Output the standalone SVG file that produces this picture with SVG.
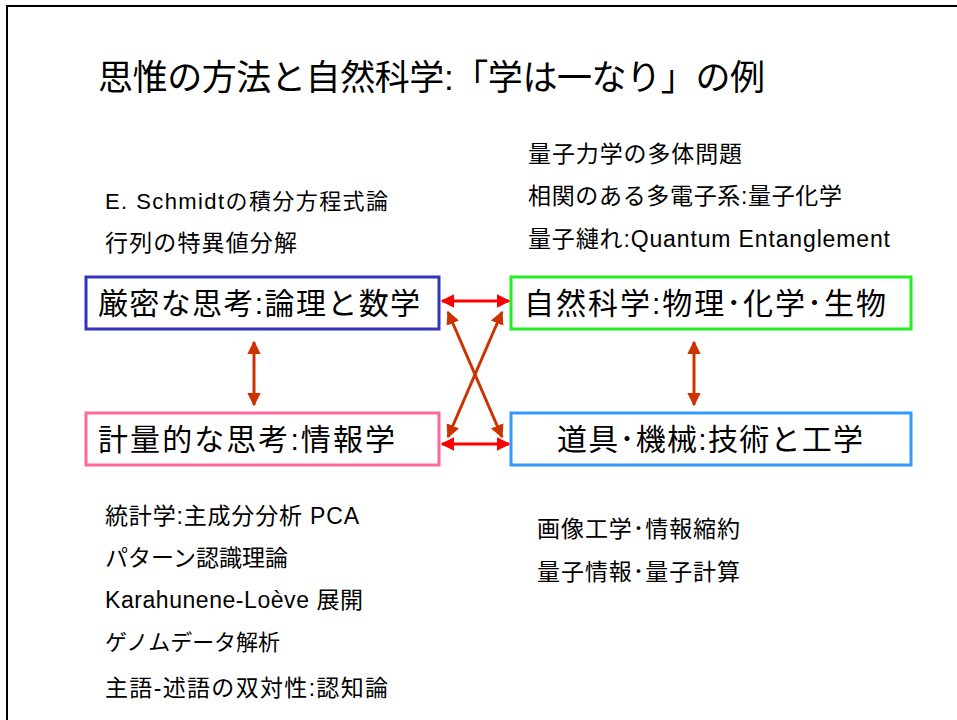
<svg xmlns="http://www.w3.org/2000/svg" width="957" height="720" viewBox="0 0 957 720">
<defs>
<style>
text{font-family:"Liberation Sans","Noto Sans CJK JP",sans-serif;fill:#000}
.t{font-size:35px}
.b{font-size:30px}
.s{font-size:23px}
.box{fill:#fff;stroke-width:3}
.ar{stroke:#FF0000;stroke-width:3;fill:none;marker-start:url(#hr);marker-end:url(#hr)}
.ao{stroke:#CC3300;stroke-width:3;fill:none;marker-start:url(#ho);marker-end:url(#ho)}
</style>
<marker id="hr" viewBox="0 0 10 10" refX="9" refY="5" markerWidth="4.5" markerHeight="4.5" orient="auto-start-reverse"><path d="M0,0 L10,5 L0,10 z" fill="#FF0000"/></marker>
<marker id="ho" viewBox="0 0 10 10" refX="9" refY="5" markerWidth="4.5" markerHeight="4.5" orient="auto-start-reverse"><path d="M0,0 L10,5 L0,10 z" fill="#CC3300"/></marker>
</defs>
<rect width="957" height="720" fill="#fff"/>
<path d="M7,720 V6 H957" fill="none" stroke="#000" stroke-width="2"/>
<text class="t" x="98" y="90" textLength="667" lengthAdjust="spacing">思惟の方法と自然科学:「学は一なり」の例</text>
<g id="notes">
<text class="s" x="528" y="162" textLength="214" lengthAdjust="spacing">量子力学の多体問題</text>
<text class="s" x="528" y="204" textLength="314" lengthAdjust="spacing">相関のある多電子系:量子化学</text>
<text class="s" x="528" y="247" textLength="362" lengthAdjust="spacing">量子縺れ:Quantum Entanglement</text>
<text class="s" x="105" y="209" textLength="283" lengthAdjust="spacing" style="font-size:22px">E. Schmidtの積分方程式論</text>
<text class="s" x="105" y="251" textLength="192" lengthAdjust="spacing">行列の特異値分解</text>
<text class="s" x="105" y="524" textLength="254" lengthAdjust="spacing">統計学:主成分分析 PCA</text>
<text class="s" x="105" y="566" textLength="183" lengthAdjust="spacing">パターン認識理論</text>
<text class="s" x="105" y="608" textLength="258" lengthAdjust="spacing">Karahunene-Loève 展開</text>
<text class="s" x="105" y="650" textLength="175" lengthAdjust="spacing" style="font-size:22px">ゲノムデータ解析</text>
<text class="s" x="105" y="696" textLength="283" lengthAdjust="spacing">主語-述語の双対性:認知論</text>
<text class="s" x="537" y="537" textLength="203" lengthAdjust="spacing">画像工学･情報縮約</text>
<text class="s" x="537" y="580" textLength="203" lengthAdjust="spacing">量子情報･量子計算</text>
</g>
<g id="n1"><rect class="box" x="86" y="277" width="353" height="52" stroke="#3333BB"/><text class="b" x="98" y="314" textLength="322" lengthAdjust="spacing">厳密な思考:論理と数学</text></g>
<g id="n2"><rect class="box" x="511" y="277" width="400" height="52" stroke="#22EE22"/><text class="b" x="524" y="314" textLength="362" lengthAdjust="spacing">自然科学:物理･化学･生物</text></g>
<g id="n3"><rect class="box" x="86" y="413" width="353" height="52" stroke="#FF6699"/><text class="b" x="98" y="450" textLength="297" lengthAdjust="spacing">計量的な思考:情報学</text></g>
<g id="n4"><rect class="box" x="511" y="413" width="400" height="52" stroke="#3399FF"/><text class="b" x="557" y="450" textLength="306" lengthAdjust="spacing">道具･機械:技術と工学</text></g>
<g id="connectors">
<line class="ar" x1="442" y1="301" x2="509" y2="301"/>
<line class="ar" x1="442" y1="444" x2="509" y2="444"/>
<line class="ao" x1="448" y1="312" x2="502" y2="437"/>
<line class="ao" x1="502" y1="312" x2="448" y2="437"/>
<line class="ao" x1="254" y1="342" x2="254" y2="405"/>
<line class="ao" x1="694" y1="342" x2="694" y2="405"/>
</g>
</svg>
